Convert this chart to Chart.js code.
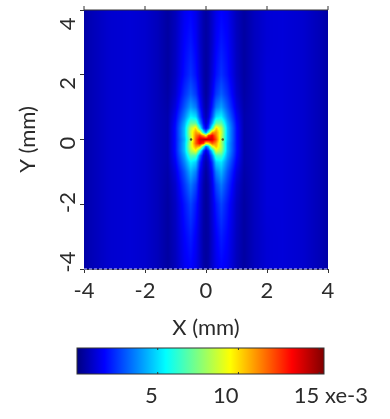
<!DOCTYPE html>
<html>
<head>
<meta charset="utf-8">
<script src="https://cdn.jsdelivr.net/npm/chart.js@4"></script>
<style>
  html, body { margin: 0; padding: 0; background: #fff; }
  canvas { position: absolute; left: 0; }
  #field-chart { top: 0; }
  #colorbar-chart { top: 345px; }
</style>
</head>
<body>
<canvas id="field-chart" width="390" height="345"></canvas>
<canvas id="colorbar-chart" width="390" height="74"></canvas>
<script>
// =========================
// DATA (values in units of 1e-3)
// =========================

const xNodes = [-4, -3.8, -3.2, -2.5, -2, -1.6, -1.25, -1, -0.7, -0.5, -0.33, -0.2, -0.08, 0, 0.08, 0.2, 0.33, 0.5, 0.7, 1, 1.25, 1.6, 2, 2.5, 3.2, 3.8, 4];
const yNodes = [4, 3, 2, 1.4, 1, 0.7, 0.5, 0.35, 0.22, 0.12, 0, -0.12, -0.22, -0.35, -0.5, -0.7, -1, -1.4, -2, -3, -4];

const heatRows = [
  [.5, .7, 1.05, 1.15, 1.05, .8, .45, .8, 1.5, 1.7, 1.4, 1, .6, .45, .6, 1, 1.4, 1.7, 1.5, .8, .45, .85, 1.15, 1.2, 1.05, .7, .5],
  [.5, .7, 1.05, 1.15, 1.05, .8, .45, .85, 1.7, 2, 1.6, 1, .6, .45, .6, 1, 1.6, 2, 1.7, .85, .45, .85, 1.15, 1.2, 1.05, .7, .5],
  [.5, .7, 1.05, 1.15, 1.05, .8, .45, .9, 1.9, 2.4, 1.9, 1.2, .6, .4, .6, 1.2, 1.9, 2.4, 1.9, .9, .45, .85, 1.2, 1.2, 1.05, .7, .5],
  [.5, .7, 1.05, 1.15, 1.05, .8, .5, 1.05, 2.4, 3.1, 2.5, 1.5, .7, .4, .7, 1.5, 2.5, 3.1, 2.4, 1.05, .5, .85, 1.2, 1.2, 1.05, .7, .5],
  [.5, .7, 1.05, 1.15, 1.05, .8, .55, 1.3, 3, 4.1, 3.5, 2, .9, .5, .9, 2, 3.5, 4.1, 3, 1.3, .55, .85, 1.2, 1.2, 1.05, .7, .5],
  [.5, .7, 1.05, 1.15, 1.05, .8, .6, 1.6, 3.7, 5.4, 5, 2.8, 1.2, .7, 1.2, 2.8, 5, 5.4, 3.7, 1.6, .6, .85, 1.2, 1.2, 1.05, .7, .5],
  [.5, .7, 1.05, 1.15, 1.05, .8, .6, 1.8, 4.3, 7, 7, 4, 1.8, 1, 1.8, 4, 7, 7, 4.3, 1.8, .6, .85, 1.2, 1.2, 1.05, .7, .5],
  [.5, .7, 1.05, 1.15, 1.05, .8, .6, 1.9, 4.6, 8.5, 10, 6, 2.5, 1.5, 2.5, 6, 10.2, 8.5, 4.6, 1.9, .6, .85, 1.2, 1.2, 1.05, .7, .5],
  [.5, .7, 1.05, 1.15, 1.05, .8, .6, 1.9, 4.6, 8.8, 11, 10, 5.5, 3.5, 6.5, 11, 11.2, 8.8, 4.6, 1.9, .6, .85, 1.2, 1.2, 1.05, .7, .5],
  [.5, .7, 1.05, 1.15, 1.05, .8, .6, 1.9, 4.6, 8.6, 11.5, 12.5, 11, 9.5, 12.5, 13.5, 11.5, 8.6, 4.6, 1.9, .6, .85, 1.2, 1.2, 1.05, .7, .5],
  [.5, .7, 1.05, 1.15, 1.05, .8, .6, 1.9, 4.4, 8, 12, 14, 14.3, 14.5, 14.3, 14, 12.2, 8.4, 4.6, 1.9, .6, .85, 1.2, 1.2, 1.05, .7, .5],
  [.5, .7, 1.05, 1.15, 1.05, .8, .6, 1.9, 4.6, 8.6, 12, 13.5, 12.5, 9.5, 10, 12, 11, 8.2, 4.4, 1.9, .6, .85, 1.2, 1.2, 1.05, .7, .5],
  [.5, .7, 1.05, 1.15, 1.05, .8, .6, 1.9, 4.6, 8.8, 11, 10.5, 6, 3, 4.5, 9, 10.5, 8.4, 4.4, 1.9, .6, .85, 1.2, 1.2, 1.05, .7, .5],
  [.5, .7, 1.05, 1.15, 1.05, .8, .6, 1.9, 4.6, 8.2, 9.5, 6, 2.4, 1.3, 2.2, 5, 9, 8, 4.4, 1.9, .6, .85, 1.2, 1.2, 1.05, .7, .5],
  [.5, .7, 1.05, 1.15, 1.05, .8, .6, 1.8, 4.2, 6.8, 6.6, 3.4, 1.4, .8, 1.4, 3.4, 6.4, 6.6, 4.1, 1.8, .6, .85, 1.2, 1.2, 1.05, .7, .5],
  [.5, .7, 1.05, 1.15, 1.05, .8, .6, 1.6, 3.7, 5.4, 4.8, 2.3, 1, .6, 1, 2.3, 4.8, 5.2, 3.6, 1.6, .6, .85, 1.2, 1.2, 1.05, .7, .5],
  [.5, .7, 1.05, 1.15, 1.05, .8, .55, 1.3, 3, 4.4, 3.6, 1.7, .8, .4, .8, 1.7, 3.6, 4.4, 3, 1.3, .55, .85, 1.2, 1.2, 1.05, .7, .5],
  [.5, .7, 1.05, 1.15, 1.05, .8, .5, 1.05, 2.5, 3.5, 2.7, 1.4, .6, .35, .6, 1.4, 2.7, 3.5, 2.5, 1.05, .5, .85, 1.2, 1.2, 1.05, .7, .5],
  [.5, .7, 1.05, 1.15, 1.05, .8, .45, .9, 2, 2.7, 2, 1.2, .55, .35, .55, 1.2, 2, 2.7, 2, .9, .45, .85, 1.2, 1.2, 1.05, .7, .5],
  [.5, .7, 1.05, 1.15, 1.05, .8, .45, .85, 1.7, 2.1, 1.6, 1, .5, .4, .5, 1, 1.6, 2.1, 1.7, .85, .45, .85, 1.15, 1.2, 1.05, .7, .5],
  [.5, .7, 1.05, 1.15, 1.05, .8, .45, .8, 1.5, 1.7, 1.4, 1, .55, .4, .55, 1, 1.4, 1.7, 1.5, .8, .45, .85, 1.15, 1.2, 1.05, .7, .5],
];

const axisTicks = [-4, -2, 0, 2, 4];
const colorbarTicks = [5, 10, 15];
const centerDotsX = [-0.49, 0.55];

// jet colour map
const jetValues = [0, 1.7, 5.5, 9.5, 13.3, 15.3];
const jetColors = [[0, 0, 128], [0, 0, 255], [0, 255, 255], [255, 255, 0], [255, 0, 0], [128, 0, 0]];
const COLOR_MAX = 15.3;

const FONT_FAMILY = "Lato, 'Open Sans', sans-serif";
const TEXT_COLOR = "#2b2b2b";
const AXIS_COLOR = "#333333";

// =========================
// HELPERS
// =========================

function jetColor(v) {
  let i = 0;
  while (i < jetValues.length - 2 && v > jetValues[i + 1]) i++;
  const t = Math.min(1, Math.max(0, (v - jetValues[i]) / (jetValues[i + 1] - jetValues[i])));
  return jetColors[i].map((c, k) => c + (jetColors[i + 1][k] - c) * t);
}

function bracket(nodes, value) {
  // nodes may run up or down, returns lower index and fraction
  const sign = nodes[1] > nodes[0] ? 1 : -1;
  let i = 0;
  while (i < nodes.length - 2 && sign * value > sign * nodes[i + 1]) i++;
  const t = (value - nodes[i]) / (nodes[i + 1] - nodes[i]);
  return [i, Math.min(1, Math.max(0, t))];
}

// =========================
// PLUGINS
// =========================

const heatmapPlugin = {
  id: "heatmap",
  beforeDatasetsDraw(chart) {
    const { ctx, chartArea, scales } = chart;
    const w = Math.round(chartArea.right - chartArea.left);
    const h = Math.round(chartArea.bottom - chartArea.top);
    const off = document.createElement("canvas");
    off.width = w;
    off.height = h;
    const octx = off.getContext("2d");
    const img = octx.createImageData(w, h);

    for (let py = 0; py < h; py++) {
      const yVal = scales.y.getValueForPixel(chartArea.top + py + 0.5);
      const [r, ty] = bracket(yNodes, yVal);
      for (let px = 0; px < w; px++) {
        const xVal = scales.x.getValueForPixel(chartArea.left + px + 0.5);
        const [c, tx] = bracket(xNodes, xVal);
        const top = heatRows[r][c] * (1 - tx) + heatRows[r][c + 1] * tx;
        const bot = heatRows[r + 1][c] * (1 - tx) + heatRows[r + 1][c + 1] * tx;
        const rgb = jetColor(top * (1 - ty) + bot * ty);
        const o = (py * w + px) * 4;
        img.data[o] = rgb[0];
        img.data[o + 1] = rgb[1];
        img.data[o + 2] = rgb[2];
        img.data[o + 3] = 255;
      }
    }
    octx.putImageData(img, 0, 0);
    ctx.drawImage(off, chartArea.left, chartArea.top);
  },
  afterDraw(chart) {
    // short tick marks along the top edge, and the top edge itself
    const { ctx, chartArea, scales } = chart;
    ctx.save();
    ctx.strokeStyle = AXIS_COLOR;
    ctx.lineWidth = 1;
    ctx.beginPath();
    ctx.moveTo(chartArea.left, chartArea.top);
    ctx.lineTo(chartArea.right, chartArea.top);
    axisTicks.forEach((t) => {
      const px = scales.x.getPixelForValue(t);
      ctx.moveTo(px, chartArea.top);
      ctx.lineTo(px, chartArea.top - 4);
    });
    ctx.stroke();
    ctx.restore();
  },
};

const colorbarPlugin = {
  id: "colorbar",
  beforeDatasetsDraw(chart) {
    const { ctx, chartArea, scales } = chart;
    const grad = ctx.createLinearGradient(chartArea.left, 0, chartArea.right, 0);
    jetValues.forEach((v, i) => {
      grad.addColorStop(v / COLOR_MAX, `rgb(${jetColors[i].join(",")})`);
    });
    ctx.fillStyle = grad;
    ctx.fillRect(chartArea.left, chartArea.top, chartArea.right - chartArea.left, chartArea.bottom - chartArea.top);

    ctx.strokeStyle = AXIS_COLOR;
    ctx.lineWidth = 1;
    ctx.strokeRect(chartArea.left, chartArea.top, chartArea.right - chartArea.left, chartArea.bottom - chartArea.top);
    ctx.beginPath();
    colorbarTicks.forEach((t) => {
      const px = scales.x.getPixelForValue(t);
      ctx.moveTo(px, chartArea.top);
      ctx.lineTo(px, chartArea.top + 2);
      ctx.moveTo(px, chartArea.bottom);
      ctx.lineTo(px, chartArea.bottom - 2);
    });
    ctx.stroke();
  },
  afterDraw(chart) {
    const { ctx, chartArea } = chart;
    ctx.save();
    ctx.fillStyle = TEXT_COLOR;
    ctx.font = `22px ${FONT_FAMILY}`;
    ctx.textAlign = "left";
    ctx.textBaseline = "alphabetic";
    ctx.fillText("xe-3", chartArea.right + 1, chartArea.bottom + 29);
    ctx.restore();
  },
};

// =========================
// CHARTS
// =========================

const heatPoints = [];
yNodes.forEach((y, r) => {
  xNodes.forEach((x, c) => heatPoints.push({ x, y, v: heatRows[r][c] }));
});

new Chart(document.getElementById("field-chart"), {
  type: "scatter",
  plugins: [heatmapPlugin],
  data: {
    datasets: [
      { data: heatPoints, pointRadius: 0, showLine: false },
      {
        data: axisTicks.map((x) => ({ x, y: -4 })),
        showLine: true,
        pointRadius: 0,
        borderColor: "#8f8fe0",
        borderWidth: 1.5,
        borderDash: [3, 2],
        clip: false,
      },
      {
        data: centerDotsX.map((x) => ({ x, y: 0 })),
        pointRadius: 1.2,
        pointBackgroundColor: "#4a5a2a",
        pointBorderWidth: 0,
      },
    ],
  },
  options: {
    responsive: false,
    animation: false,
    layout: { padding: { left: 0, top: 10, right: 62, bottom: 0 } },
    plugins: { legend: { display: false }, tooltip: { enabled: false } },
    scales: {
      x: {
        type: "linear",
        min: -4,
        max: 4,
        afterBuildTicks(scale) {
          scale.ticks = axisTicks.map((value) => ({ value }));
        },
        afterFit(scale) {
          scale.height = 76;
          scale.paddingLeft = 0;
          scale.paddingRight = 0;
        },
        grid: { drawOnChartArea: false, color: AXIS_COLOR, tickLength: 4 },
        border: { color: AXIS_COLOR },
        ticks: {
          color: TEXT_COLOR,
          font: { family: FONT_FAMILY, size: 22 },
          padding: 5,
          maxRotation: 0,
          autoSkip: false,
        },
        title: {
          display: true,
          text: "X (mm)",
          color: TEXT_COLOR,
          font: { family: FONT_FAMILY, size: 22 },
          padding: { top: 0, bottom: 4 },
        },
      },
      y: {
        type: "linear",
        position: "left",
        weight: 0,
        min: -4,
        max: 4,
        afterBuildTicks(scale) {
          scale.ticks = axisTicks.map((value) => ({ value }));
        },
        afterFit(scale) {
          scale.width = 4;
        },
        grid: { drawOnChartArea: false, color: AXIS_COLOR, tickLength: 4 },
        border: { color: AXIS_COLOR },
        ticks: { display: false },
      },
      // carries the Y tick labels, which sit a little tighter than the tick marks
      yLabels: {
        type: "linear",
        position: "left",
        weight: 1,
        min: -4.235,
        max: 4.47,
        afterBuildTicks(scale) {
          scale.ticks = axisTicks.map((value) => ({ value }));
        },
        afterFit(scale) {
          scale.width = 80;
          scale.paddingTop = 0;
          scale.paddingBottom = 0;
        },
        grid: { display: false, drawTicks: false },
        border: { display: false },
        ticks: {
          color: TEXT_COLOR,
          font: { family: FONT_FAMILY, size: 22 },
          minRotation: 90,
          maxRotation: 90,
          crossAlign: "center",
          padding: 2,
          autoSkip: false,
        },
        title: {
          display: true,
          text: "Y (mm)",
          color: TEXT_COLOR,
          font: { family: FONT_FAMILY, size: 22 },
          padding: { top: 15, bottom: 0 },
        },
      },
    },
  },
});

new Chart(document.getElementById("colorbar-chart"), {
  type: "scatter",
  plugins: [colorbarPlugin],
  data: {
    datasets: [{ data: colorbarTicks.map((x) => ({ x, y: 0 })), pointRadius: 0 }],
  },
  options: {
    responsive: false,
    animation: false,
    layout: { padding: { left: 77, top: 3, right: 66, bottom: 0 } },
    plugins: { legend: { display: false }, tooltip: { enabled: false } },
    scales: {
      x: {
        type: "linear",
        min: 0,
        max: COLOR_MAX,
        afterBuildTicks(scale) {
          scale.ticks = colorbarTicks.map((value) => ({ value }));
        },
        afterFit(scale) {
          scale.height = 45;
          scale.paddingLeft = 0;
          scale.paddingRight = 0;
        },
        grid: { display: false, drawTicks: false },
        border: { display: false },
        ticks: {
          color: TEXT_COLOR,
          font: { family: FONT_FAMILY, size: 22 },
          align: "end",
          padding: 9,
          maxRotation: 0,
          autoSkip: false,
        },
      },
      y: { display: false, min: -1, max: 1 },
    },
  },
});
</script>
</body>
</html>
